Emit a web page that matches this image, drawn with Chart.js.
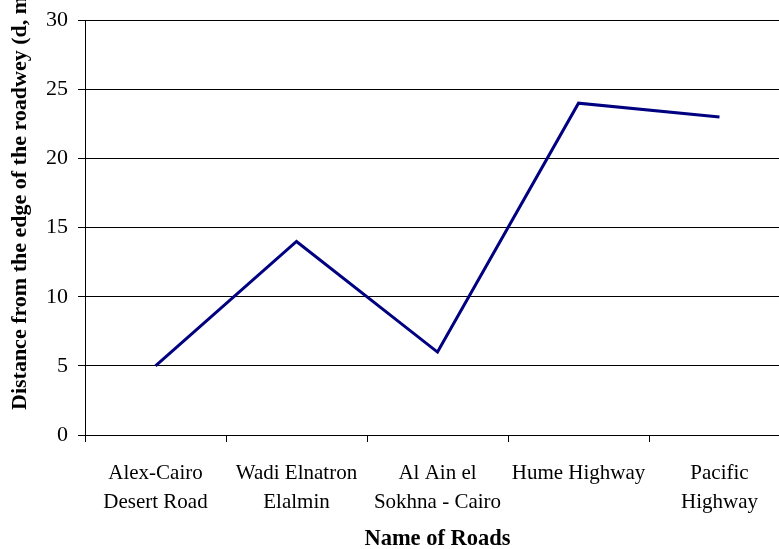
<!DOCTYPE html>
<html>
<head>
<meta charset="utf-8">
<script src="https://cdn.jsdelivr.net/npm/chart.js@4"></script>
<style>
  html, body { margin: 0; padding: 0; background: #fff; overflow: hidden; }
  #wrap { width: 800px; height: 552px; margin-top: -3px; }
</style>
</head>
<body>
<div id="wrap"><canvas id="myChart"></canvas></div>
<script>
const roads = [
    ['Alex-Cairo', 'Desert Road'],
    ['Wadi Elnatron', 'Elalmin'],
    ['Al Ain el', 'Sokhna - Cairo'],
    ['Hume Highway'],
    ['Pacific', 'Highway']
]
const distance = [5, 14, 6, 24, 23]
const yTicks = [0, 5, 10, 15, 20, 25, 30]

const xTitle = 'Name of Roads'
const yTitle = 'Distance from the edge of the roadwey (d, m)'
const serif = '"Liberation Serif", "Times New Roman", serif'

// axis titles drawn by hand, Excel put the y one off-centre and it runs off the top
const titlesPlugin = {
    id: 'axisTitles',
    afterDraw(chart) {
        const ctx = chart.ctx
        const area = chart.chartArea
        ctx.save()
        ctx.fillStyle = '#000'
        ctx.textBaseline = 'middle'

        ctx.font = 'bold 22.5px ' + serif
        ctx.textAlign = 'center'
        ctx.fillText(xTitle, (area.left + area.right) / 2, 542)

        ctx.translate(20, 413)
        ctx.rotate(-Math.PI / 2)
        ctx.font = 'bold 22px ' + serif
        ctx.textAlign = 'left'
        ctx.fillText(yTitle, 0, 0)
        ctx.restore()
    }
}

const ctx = document.getElementById('myChart').getContext('2d')
new Chart(ctx, {
    type: 'line',
    data: {
        labels: roads,
        datasets: [{
            data: distance,
            borderColor: '#000080',
            borderWidth: 3,
            pointRadius: 0,
            tension: 0,
            fill: false
        }]
    },
    options: {
        responsive: true,
        maintainAspectRatio: false,
        animation: false,
        layout: { padding: { left: 36, top: 13, right: 10, bottom: 15 } },
        plugins: {
            legend: { display: false },
            tooltip: { enabled: false }
        },
        scales: {
            x: {
                offset: true,
                grid: {
                    offset: true,
                    drawOnChartArea: false,
                    color: '#000',
                    tickLength: 7
                },
                border: { color: '#000', width: 1 },
                ticks: {
                    color: '#000',
                    font: { family: serif, size: 21, lineHeight: 1.38 },
                    padding: 17,
                    maxRotation: 0,
                    autoSkip: false
                }
            },
            y: {
                min: 0,
                max: 30,
                afterBuildTicks(scale) {
                    scale.ticks = yTicks.map(v => ({ value: v }))
                },
                grid: {
                    color: '#000',
                    tickLength: 7
                },
                border: { color: '#000', width: 1 },
                ticks: {
                    color: '#000',
                    font: { family: serif, size: 22 },
                    padding: 10
                }
            }
        }
    },
    plugins: [titlesPlugin]
})
</script>
</body>
</html>
